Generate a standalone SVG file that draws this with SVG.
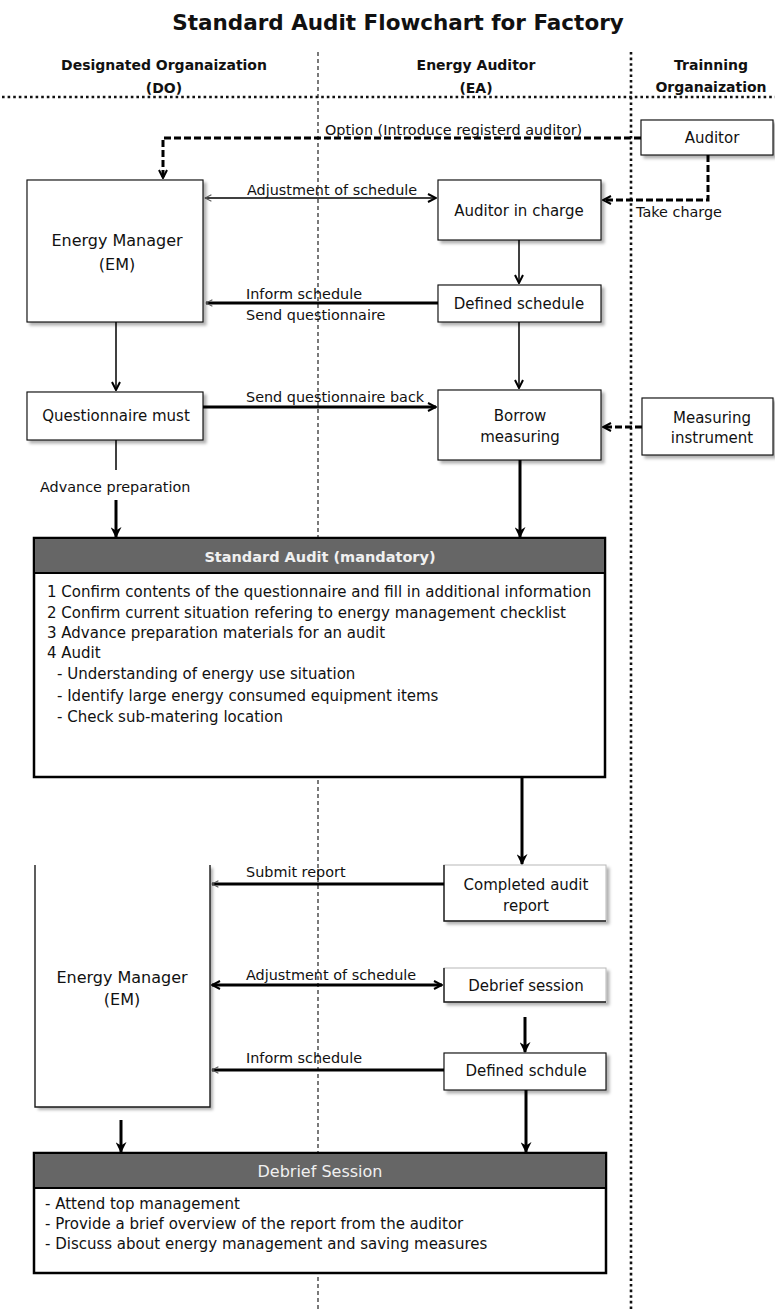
<svg xmlns="http://www.w3.org/2000/svg" width="775" height="1312" viewBox="0 0 775 1312">
<defs>
<style>
text{font-family:"DejaVu Sans","Liberation Sans",sans-serif;fill:#111}
.title{font-size:21.5px;font-weight:bold;text-anchor:middle}
.lane{font-size:14px;font-weight:bold;text-anchor:middle}
.nt{font-size:15px;text-anchor:middle}
.lb{font-size:14.4px}
.body{font-size:15px}
.hdr{font-size:14.5px;font-weight:bold;fill:#f0f0f0;text-anchor:middle}
.hdr2{font-size:16px;fill:#f0f0f0;text-anchor:middle}
.box{fill:#fff;stroke:#1a1a1a;stroke-width:1.2;filter:url(#sh)}
.soft{fill:#fff;stroke:#b8b8b8;stroke-width:1;filter:url(#sh)}
.edge{fill:none;stroke:#1a1a1a;stroke-width:1.4}
.big{fill:#fff;stroke:#000;stroke-width:2.5}
.band{fill:#666;stroke:#000;stroke-width:2}
.laneh{stroke:#111;stroke-width:2.6;stroke-dasharray:2.6 3}
.lanev1{stroke:#222;stroke-width:1.2;stroke-dasharray:4 3}
.lanev2{stroke:#111;stroke-width:2.6;stroke-dasharray:2.6 3}
.c{fill:none;stroke:#000}
.thin{stroke-width:1.5}
.thick{stroke-width:3}
.dash{stroke-width:3;stroke-dasharray:7 3}
</style>
<filter id="sh" x="-10%" y="-10%" width="130%" height="140%">
<feDropShadow dx="3" dy="3" stdDeviation="1.5" flood-color="#000" flood-opacity="0.3"/>
</filter>
<marker id="ah" viewBox="0 0 10 10" refX="9" refY="5" markerWidth="11" markerHeight="11" markerUnits="userSpaceOnUse" orient="auto">
<path d="M0,0 L10,5 L0,10 L3,5 Z" fill="#000"/>
</marker>
<marker id="ao" viewBox="0 0 10 10" refX="9" refY="5" markerWidth="10" markerHeight="10" markerUnits="userSpaceOnUse" orient="auto-start-reverse">
<path d="M1,1 L9,5 L1,9" fill="none" stroke="#000" stroke-width="2"/>
</marker>
<marker id="as" viewBox="0 0 10 10" refX="9" refY="5" markerWidth="8" markerHeight="8" markerUnits="userSpaceOnUse" orient="auto-start-reverse">
<path d="M1,1 L9,5 L1,9" fill="none" stroke="#555" stroke-width="1.3"/>
</marker>
</defs>
<rect width="775" height="1312" fill="#fff"/>

<g id="title"><text class="title" x="398" y="30">Standard Audit Flowchart for Factory</text></g>

<g id="lanes">
<text class="lane" x="164" y="70">Designated Organaization</text>
<text class="lane" x="164" y="93">(DO)</text>
<text class="lane" x="476" y="70">Energy Auditor</text>
<text class="lane" x="476" y="93">(EA)</text>
<text class="lane" x="711" y="70">Trainning</text>
<text class="lane" x="711" y="92">Organaization</text>
<line class="laneh" x1="2" y1="97" x2="775" y2="97"/>
<line class="lanev1" x1="318" y1="52" x2="318" y2="1312"/>
<line class="lanev2" x1="631" y1="52" x2="631" y2="1312"/>
</g>

<g id="n_em1"><rect class="box" x="27" y="180" width="176" height="142"/>
<text class="nt" x="117" y="246" style="font-size:16px">Energy Manager</text>
<text class="nt" x="117" y="270" style="font-size:16px">(EM)</text></g>

<g id="n_auditor"><rect class="box" x="641" y="120" width="132" height="35"/>
<text class="nt" x="712" y="143">Auditor</text></g>

<g id="n_auditor_charge"><rect class="box" x="438" y="180" width="163" height="60"/>
<text class="nt" x="519" y="216">Auditor in charge</text></g>

<g id="n_defined1"><rect class="box" x="438" y="285" width="163" height="37"/>
<text class="nt" x="519" y="309">Defined schedule</text></g>

<g id="n_quest"><rect class="box" x="27" y="392" width="176" height="48"/>
<text class="nt" x="116" y="421">Questionnaire must</text></g>

<g id="n_borrow"><rect class="box" x="438" y="390" width="163" height="70"/>
<text class="nt" x="520" y="421">Borrow</text>
<text class="nt" x="520" y="442">measuring</text></g>

<g id="n_measure"><rect class="box" x="642" y="398" width="131" height="57"/>
<text class="nt" x="712" y="423">Measuring</text>
<text class="nt" x="712" y="443">instrument</text></g>

<g id="n_std">
<rect class="big" x="34" y="538" width="571" height="239"/>
<rect class="band" x="34" y="538" width="571" height="35"/>
<text class="hdr" x="320" y="562">Standard Audit (mandatory)</text>
<text class="body" x="47" y="597">1 Confirm contents of the questionnaire  and fill in additional information</text>
<text class="body" x="47" y="618">2 Confirm current situation refering to energy management checklist</text>
<text class="body" x="47" y="638">3 Advance preparation materials for an audit</text>
<text class="body" x="47" y="658">4 Audit</text>
<text class="body" x="57" y="679">- Understanding of energy use situation</text>
<text class="body" x="57" y="701">- Identify large energy consumed equipment items</text>
<text class="body" x="57" y="722">- Check sub-matering location</text>
</g>

<g id="n_report"><rect class="soft" x="444" y="865" width="162" height="56"/>
<path class="edge" d="M444,865 V921 H606"/>
<text class="nt" x="526" y="890">Completed audit</text>
<text class="nt" x="526" y="911">report</text></g>

<g id="n_em2"><rect x="35" y="865" width="175" height="242" fill="#fff" filter="url(#sh)"/>
<path class="edge" d="M35,865 V1107 H210 V865"/>
<text class="nt" x="122" y="983" style="font-size:16px">Energy Manager</text>
<text class="nt" x="122" y="1005" style="font-size:16px">(EM)</text></g>

<g id="n_debrief_s"><rect class="soft" x="444" y="968" width="162" height="34"/>
<path class="edge" d="M444,968 V1002 H606"/>
<text class="nt" x="526" y="991">Debrief session</text></g>

<g id="n_defined2"><rect class="box" x="444" y="1053" width="162" height="37"/>
<text class="nt" x="526" y="1076">Defined schdule</text></g>

<g id="n_debrief">
<rect class="big" x="34" y="1153" width="572" height="120"/>
<rect class="band" x="34" y="1153" width="572" height="35"/>
<text class="hdr2" x="320" y="1177">Debrief Session</text>
<text class="body" x="45" y="1209">- Attend top management</text>
<text class="body" x="45" y="1229">- Provide a brief overview of the report from the auditor</text>
<text class="body" x="45" y="1249">- Discuss about energy management and saving measures</text>
</g>

<g id="connectors">
<path class="c dash" d="M641,138 H163 V178" marker-end="url(#ao)"/>
<text class="lb" x="325" y="135">Option (Introduce registerd auditor)</text>

<path class="c thin" d="M205,198 H436" marker-start="url(#as)" marker-end="url(#ao)"/>
<text class="lb" x="247" y="195">Adjustment of schedule</text>

<path class="c dash" d="M708,155 V200 H603" marker-end="url(#ao)"/>
<text class="lb" x="636" y="217">Take charge</text>

<path class="c thin" d="M519,240 V283" marker-end="url(#ao)"/>

<path class="c thick" d="M438,303 H206" marker-end="url(#as)"/>
<text class="lb" x="246" y="299">Inform schedule</text>
<text class="lb" x="246" y="320">Send questionnaire</text>

<path class="c thin" d="M116,322 V390" marker-end="url(#ao)"/>

<path class="c thick" d="M203,407 H436" marker-end="url(#ao)"/>
<text class="lb" x="246" y="402">Send questionnaire back</text>

<path class="c thin" d="M519,322 V388" marker-end="url(#ao)"/>

<path class="c dash" d="M642,427 H603" marker-end="url(#ao)"/>

<path class="c thin" d="M116,440 V470"/>
<text class="lb" x="40" y="492">Advance preparation</text>
<path class="c thick" d="M116,500 V537" marker-end="url(#ah)"/>

<path class="c thick" d="M520,460 V537" marker-end="url(#ah)"/>

<path class="c thick" d="M522,777 V864" marker-end="url(#ah)"/>

<path class="c thick" d="M444,884 H212" marker-end="url(#as)"/>
<text class="lb" x="246" y="877">Submit report</text>

<path class="c thick" d="M212,985 H442" marker-start="url(#ao)" marker-end="url(#ao)"/>
<text class="lb" x="246" y="980">Adjustment of schedule</text>

<path class="c thick" d="M525,1017 V1052" marker-end="url(#ah)"/>

<path class="c thick" d="M444,1070 H212" marker-end="url(#as)"/>
<text class="lb" x="246" y="1063">Inform schedule</text>

<path class="c thick" d="M121,1120 V1152" marker-end="url(#ah)"/>
<path class="c thick" d="M526,1090 V1152" marker-end="url(#ah)"/>
</g>
</svg>
